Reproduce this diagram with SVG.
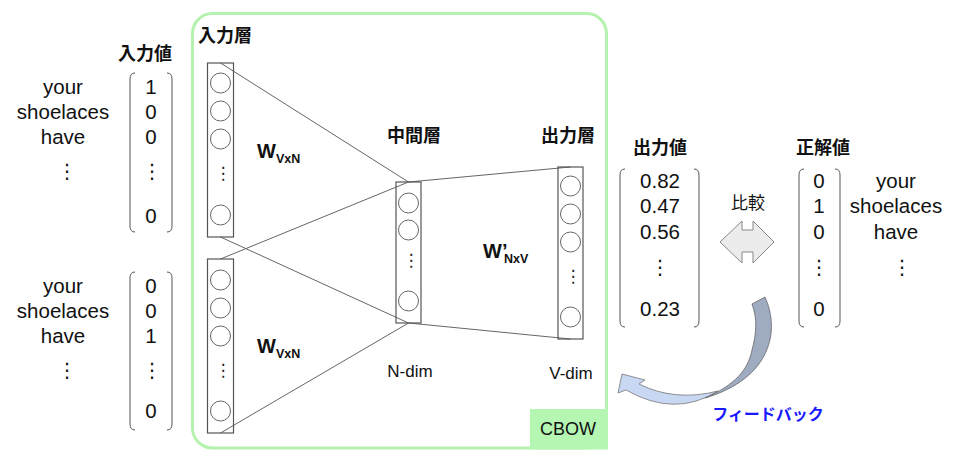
<svg xmlns="http://www.w3.org/2000/svg" width="960" height="457" viewBox="0 0 960 457">
<style>
.t{font-family:"Liberation Sans",Arial,sans-serif;font-size:20.5px;fill:#111;text-anchor:middle}
.j{font-family:"Liberation Sans","Noto Sans CJK JP",sans-serif;font-weight:bold;font-size:18px;fill:#111}
.jm{text-anchor:middle}
.w{font-family:"Liberation Sans",Arial,sans-serif;font-weight:bold;fill:#111}
.d{font-family:"DejaVu Sans",sans-serif;fill:#111;text-anchor:middle;font-size:20px}
.ds{font-family:"DejaVu Sans",sans-serif;fill:#222;text-anchor:middle;font-size:17px}
.br{fill:none;stroke:#555;stroke-width:1}
.box{fill:none;stroke:#555;stroke-width:1.2}
.n{fill:none;stroke:#666;stroke-width:1}
.c{stroke:#666;stroke-width:1;fill:none}
</style>
<rect width="960" height="457" fill="#fff"/>

<g id="cbow-frame">
<rect x="192.5" y="13.5" width="414" height="434.5" rx="20" fill="none" stroke="#b5f2af" stroke-width="3"/>
<rect x="530" y="409" width="78" height="40.5" fill="#b4f6b2"/>
<text class="t" x="568" y="435" style="font-size:18px">CBOW</text>
<text class="j" x="198" y="42">入力層</text>
</g>

<g id="input-values-1">
<text class="j jm" x="145" y="60">入力値</text>
<text class="t" x="63" y="94">your</text>
<text class="t" x="63" y="119">shoelaces</text>
<text class="t" x="63" y="144">have</text>
<text class="d" x="67" y="178">⋮</text>
<path class="br" d="M135,73 Q130,73 130,79 V226 Q130,232 135,232 M167,73 Q172,73 172,79 V226 Q172,232 167,232"/>
<text class="t" x="151" y="94">1</text>
<text class="t" x="151" y="119">0</text>
<text class="t" x="151" y="144">0</text>
<text class="d" x="152" y="178">⋮</text>
<text class="t" x="151" y="223">0</text>
</g>

<g id="input-values-2">
<text class="t" x="63" y="293">your</text>
<text class="t" x="63" y="318">shoelaces</text>
<text class="t" x="63" y="343">have</text>
<text class="d" x="67" y="377">⋮</text>
<path class="br" d="M135,272 Q130,272 130,278 V424 Q130,430 135,430 M167,272 Q172,272 172,278 V424 Q172,430 167,430"/>
<text class="t" x="151" y="293">0</text>
<text class="t" x="151" y="318">0</text>
<text class="t" x="151" y="343">1</text>
<text class="d" x="152" y="377">⋮</text>
<text class="t" x="151" y="418">0</text>
</g>

<g id="connectors">
<line class="c" x1="220.5" y1="63" x2="408.5" y2="182"/>
<line class="c" x1="220.5" y1="237" x2="408.5" y2="323"/>
<line class="c" x1="220.5" y1="259" x2="408.5" y2="182"/>
<line class="c" x1="220.5" y1="433" x2="408.5" y2="323"/>
<line class="c" x1="408.5" y1="182" x2="570.5" y2="167"/>
<line class="c" x1="408.5" y1="323" x2="570.5" y2="339"/>
</g>

<g id="input-layer-1">
<rect class="box" x="207.5" y="63" width="26" height="174"/>
<circle class="n" cx="220.5" cy="83" r="10"/>
<circle class="n" cx="220.5" cy="111" r="10"/>
<circle class="n" cx="220.5" cy="139" r="10"/>
<text class="ds" x="223" y="179">⋮</text>
<circle class="n" cx="220.5" cy="215" r="10"/>
<text class="w" x="257" y="158" style="font-size:20px">W</text>
<text class="w" x="276" y="163" style="font-size:12.5px">VxN</text>
</g>

<g id="input-layer-2">
<rect class="box" x="207.5" y="259" width="26" height="174"/>
<circle class="n" cx="220.5" cy="280" r="10"/>
<circle class="n" cx="220.5" cy="308" r="10"/>
<circle class="n" cx="220.5" cy="336" r="10"/>
<text class="ds" x="223" y="376">⋮</text>
<circle class="n" cx="220.5" cy="411" r="10"/>
<text class="w" x="257" y="353" style="font-size:20px">W</text>
<text class="w" x="276" y="358" style="font-size:12.5px">VxN</text>
</g>

<g id="hidden-layer">
<text class="j jm" x="414" y="142">中間層</text>
<rect class="box" x="396" y="182" width="25" height="141"/>
<circle class="n" cx="408.5" cy="203" r="10"/>
<circle class="n" cx="408.5" cy="230" r="10"/>
<text class="ds" x="411" y="266">⋮</text>
<circle class="n" cx="408.5" cy="301" r="10"/>
<text class="t" x="410" y="377" style="font-size:17px">N-dim</text>
</g>

<g id="output-layer">
<text class="j jm" x="568" y="142">出力層</text>
<rect class="box" x="558" y="167" width="25" height="172"/>
<circle class="n" cx="570.5" cy="186" r="10"/>
<circle class="n" cx="570.5" cy="214" r="10"/>
<circle class="n" cx="570.5" cy="242" r="10"/>
<text class="ds" x="573" y="282">⋮</text>
<circle class="n" cx="570.5" cy="317" r="10"/>
<text class="t" x="571" y="379" style="font-size:17px">V-dim</text>
<text class="w" x="483" y="258" style="font-size:20px">W’</text>
<text class="w" x="504" y="263" style="font-size:12.5px">NxV</text>
</g>

<g id="output-values">
<text class="j jm" x="660" y="154">出力値</text>
<path class="br" d="M625,169 Q620,169 620,175 V321 Q620,327 625,327 M694,169 Q699,169 699,175 V321 Q699,327 694,327"/>
<text class="t" x="660" y="188">0.82</text>
<text class="t" x="660" y="213">0.47</text>
<text class="t" x="660" y="239">0.56</text>
<text class="d" x="660" y="274">⋮</text>
<text class="t" x="660" y="316">0.23</text>
</g>

<g id="compare-arrow">
<text class="j jm" x="748" y="209" style="font-weight:normal;font-size:17px">比較</text>
<polygon points="720,242 742,221 742,230 753,230 753,221 774,242 753,263 753,252 742,252 742,263" fill="#ececec" stroke="#888" stroke-width="1"/>
</g>

<g id="target-values">
<text class="j jm" x="823" y="154">正解値</text>
<path class="br" d="M804,169 Q799,169 799,175 V321 Q799,327 804,327 M835,169 Q840,169 840,175 V321 Q840,327 835,327"/>
<text class="t" x="819" y="188">0</text>
<text class="t" x="819" y="213">1</text>
<text class="t" x="819" y="239">0</text>
<text class="d" x="819" y="274">⋮</text>
<text class="t" x="819" y="316">0</text>
<text class="t" x="896" y="188">your</text>
<text class="t" x="896" y="213">shoelaces</text>
<text class="t" x="896" y="239">have</text>
<text class="d" x="902" y="274">⋮</text>
</g>

<g id="feedback-arrow">
<path d="M639,384 Q675,402 718,391 Q675,418 626,390 L618,393 L622,374 L645,380 Z" fill="#c8d8f3" stroke="#777" stroke-width="0.8"/>
<path d="M752,304 L765,297 C780,330 772,378 705,398 C735,385 748,370 752,350 C756,335 758,320 752,304 Z" fill="#9eabc1" stroke="#666" stroke-width="0.8"/>
<text x="768" y="420" style="font-family:'Liberation Sans','Noto Sans CJK JP',sans-serif;font-weight:bold;font-size:16px;fill:#1a1aff;text-anchor:middle">フィードバック</text>
</g>
</svg>
